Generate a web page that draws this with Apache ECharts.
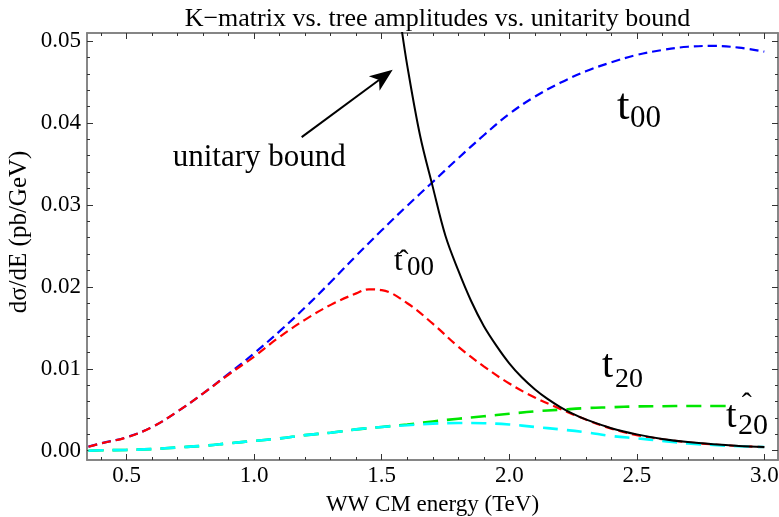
<!DOCTYPE html>
<html><head><meta charset="utf-8">
<script src="https://cdn.jsdelivr.net/npm/echarts@6/dist/echarts.min.js"></script>
<style>html,body{margin:0;padding:0;background:#fff}#c{width:779px;height:517px}</style>
</head><body><div id="c"></div>
<script>
// ---- data ----
const energy = [0.35,0.4,0.5,0.6,0.7,0.8,0.9,1.0,1.1,1.2,1.3,1.4,1.5,1.6,1.7,1.8,1.9,2.0,2.1,2.2,2.3,2.4,2.5,2.6,2.7,2.8,2.9,3.0];
const t00Tree = [0.00049,0.0009,0.00165,0.0029,0.0048,0.0070,0.0094,0.0119,0.0146,0.0175,0.0206,0.0238,0.0269,0.0299,0.0328,0.0357,0.0385,0.0411,0.0432,0.0449,0.0463,0.0474,0.0483,0.0489,0.0493,0.0494,0.0492,0.0487];
const t00KEnergy = [0.35,0.4,0.5,0.6,0.7,0.8,0.9,1.0,1.1,1.2,1.3,1.4,1.45,1.5,1.6,1.7,1.8,1.9,2.0,2.1,2.2,2.3,2.4,2.5,2.6,2.7,2.8,2.9,3.0];
const t00K = [0.00049,0.0009,0.00163,0.0029,0.0048,0.0070,0.0093,0.0115,0.0139,0.0160,0.0178,0.0192,0.0197,0.0196,0.0180,0.0155,0.0127,0.0103,0.0082,0.0065,0.0051,0.0038,0.0027,0.0019,0.0014,0.00102,0.00076,0.00057,0.00044];
const t20TreeEnergy = [0.35,0.4,0.5,0.6,0.7,0.8,0.9,1.0,1.1,1.2,1.3,1.4,1.5,1.6,1.7,1.8,1.9,2.0,2.1,2.2,2.3,2.4,2.5,2.6,2.7,2.8,2.85];
const t20Tree = [0.0,0.00005,0.0001,0.0002,0.0004,0.0006,0.0009,0.0012,0.0015,0.0019,0.0022,0.0026,0.0029,0.0032,0.00357,0.0039,0.0042,0.0045,0.0048,0.0050,0.0052,0.0053,0.0054,0.00543,0.00546,0.00546,0.00545];
const t20K = [0.0,0.00005,0.0001,0.0002,0.0004,0.0006,0.0009,0.0012,0.0015,0.0019,0.0022,0.0026,0.0029,0.0031,0.0033,0.00338,0.00335,0.0032,0.0029,0.0026,0.00225,0.0018,0.0015,0.0012,0.00088,0.0007,0.00055,0.00045];
const boundEnergy = [1.575,1.6,1.65,1.7,1.75,1.8,1.85,1.9,1.95,2.0,2.05,2.1,2.15,2.2,2.25,2.3,2.4,2.5,2.6,2.7,2.8,2.9,3.0];
const bound = [0.0521,0.0470,0.0385,0.0322,0.0262,0.0220,0.0183,0.01523,0.0128,0.01067,0.00893,0.00751,0.00632,0.00533,0.0045,0.00382,0.00275,0.00199,0.00144,0.00105,0.00078,0.00058,0.00044];

const xMajor = [0.5,1.0,1.5,2.0,2.5,3.0];
const xMinor = [0.4,0.6,0.7,0.8,0.9,1.1,1.2,1.3,1.4,1.6,1.7,1.8,1.9,2.1,2.2,2.3,2.4,2.6,2.7,2.8,2.9];
const yMajor = [0,0.01,0.02,0.03,0.04,0.05];
const yMinor = [0.002,0.004,0.006,0.008,0.012,0.014,0.016,0.018,0.022,0.024,0.026,0.028,0.032,0.034,0.036,0.038,0.042,0.044,0.046,0.048];

const titleText = 'K\u2212matrix vs. tree amplitudes vs. unitarity bound';
const xName = 'WW CM energy (TeV)';
const yName = 'd\u03C3/dE (pb/GeV)';

// annotation label anchors (data coordinates)
const annotations = [
  {text:'t',  x:2.4227, y:0.04190, size:45},
  {text:'00', x:2.4737, y:0.04056, size:31},
  {text:'t',  x:1.5482, y:0.02310, size:31},
  {text:'00', x:1.5992, y:0.02228, size:27},
  {text:'\u02C6', x:1.5850, y:0.02304, size:30, align:'center'},
  {text:'t',  x:2.3639, y:0.01029, size:40},
  {text:'20', x:2.4149, y:0.008657, size:28},
  {text:'t',  x:2.8502, y:0.004103, size:38},
  {text:'20', x:2.8973, y:0.002955, size:30},
  {text:'\u02C6', x:2.9314, y:0.005592, size:30, align:'center'},
  {text:'unitary bound', x:0.6804, y:0.0357, size:31}
];
const arrowFrom = [1.186, 0.03827];
const arrowTip = [1.543, 0.04648];

// ---- chart ----
const X_MIN = 0.3443, X_MAX = 3.0537, Y_MIN = -0.001135, Y_MAX = 0.05098;
const FONT = 'Liberation Serif';
const FRAME = '#7f7f7f';

function pairs(xs, ys){ return xs.map((x,i)=>[x, ys[i]]); }

function xAx(pos, ticks, len, labels){
  return {type:'value', position:pos, min:X_MIN, max:X_MAX,
    name: labels ? xName : '', nameLocation:'middle', nameGap:33,
    nameTextStyle:{fontFamily:FONT, fontSize:23, color:'#000'},
    axisLine:{show:true, onZero:false, lineStyle:{color:FRAME, width:1.5}},
    axisTick:{show:true, inside:true, length:len, customValues:ticks, lineStyle:{color:'#333', width:1}},
    axisLabel:{show:labels, customValues:ticks, margin:4, formatter:v=>v.toFixed(1),
      fontFamily:FONT, fontSize:23, color:'#000'},
    splitLine:{show:false}};
}
function yAx(pos, ticks, len, labels){
  return {type:'value', position:pos, min:Y_MIN, max:Y_MAX,
    axisLine:{show:true, onZero:false, lineStyle:{color:FRAME, width:1.5}},
    axisTick:{show:true, inside:true, length:len, customValues:ticks, lineStyle:{color:'#333', width:1}},
    axisLabel:{show:labels, customValues:ticks, margin:6, formatter:v=>v.toFixed(2),
      fontFamily:FONT, fontSize:23, color:'#000'},
    splitLine:{show:false}};
}

const chart = echarts.init(document.getElementById('c'));
const dashed = (color, dash, w) => ({color, width:w, type:dash});
chart.setOption({
  animation:false,
  backgroundColor:'#fff',
  title:{text:titleText, left:432.5, top:1, textAlign:'center',
    textStyle:{fontFamily:FONT, fontSize:26, fontWeight:'normal', color:'#000'}},
  grid:{left:87, right:1, top:33, bottom:57, containLabel:false, outerBoundsMode:'none'},
  xAxis:[xAx('bottom', xMajor, 6, true), xAx('bottom', xMinor, 3, false),
         xAx('top', xMajor, 6, false), xAx('top', xMinor, 3, false)],
  yAxis:[yAx('left', yMajor, 6, true), yAx('left', yMinor, 3, false),
         yAx('right', yMajor, 6, false), yAx('right', yMinor, 3, false)],
  series:[
    {type:'line', name:'t00 tree', data:pairs(energy, t00Tree), showSymbol:false, smooth:0.4,
      lineStyle:dashed('#0000ff',[9,5],2.2)},
    {type:'line', name:'t00 K', data:pairs(t00KEnergy, t00K), showSymbol:false, smooth:0.4,
      lineStyle:dashed('#ff0000',[9,5],2.2)},
    {type:'line', name:'t20 tree', data:pairs(t20TreeEnergy, t20Tree), showSymbol:false, smooth:0.4,
      lineStyle:dashed('#00e600',[15,9],2.6)},
    {type:'line', name:'t20 K', data:pairs(energy, t20K), showSymbol:false, smooth:0.4,
      lineStyle:dashed('#00ffff',[15,9],2.6)},
    {type:'line', name:'unitary bound', data:pairs(boundEnergy, bound), showSymbol:false,
      smooth:0.35,
      lineStyle:{color:'#000', width:2, type:'solid'}}
  ]
});

const graphics = annotations.map(a => {
  const p = chart.convertToPixel({xAxisIndex:0, yAxisIndex:0}, [a.x, a.y]);
  return {type:'text', x:p[0], y:p[1], silent:true,
    style:{text:a.text, fontFamily:FONT, fontSize:a.size, fill:'#000',
      align:a.align || 'left', verticalAlign:'middle'}};
});
// arrow
(function(){
  const s = chart.convertToPixel({xAxisIndex:0, yAxisIndex:0}, arrowFrom);
  const t = chart.convertToPixel({xAxisIndex:0, yAxisIndex:0}, arrowTip);
  const dx = t[0]-s[0], dy = t[1]-s[1], L = Math.hypot(dx,dy);
  const ux = dx/L, uy = dy/L, nx = -uy, ny = ux;
  const headLen = 23, halfW = 9, notch = 6;
  const bx = t[0]-ux*headLen, by = t[1]-uy*headLen;
  const nxp = bx+ux*notch, nyp = by+uy*notch;
  graphics.push({type:'line', silent:true,
    shape:{x1:s[0], y1:s[1], x2:nxp, y2:nyp}, style:{stroke:'#000', lineWidth:2}});
  graphics.push({type:'polygon', silent:true,
    shape:{points:[[t[0],t[1]],[bx+nx*halfW, by+ny*halfW],[nxp,nyp],[bx-nx*halfW, by-ny*halfW]]},
    style:{fill:'#000'}});
})();
graphics.push({type:'text', x:19, y:232, rotation:Math.PI/2, silent:true,
  style:{text:yName, fontFamily:FONT, fontSize:25, fill:'#000', align:'center', verticalAlign:'middle'}});
chart.setOption({graphic:graphics});
</script></body></html>
